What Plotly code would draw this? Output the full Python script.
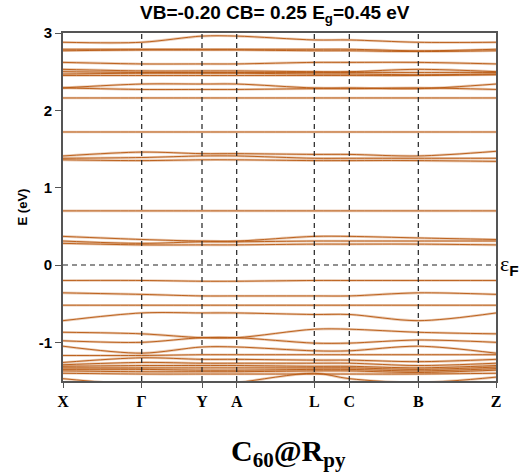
import plotly.graph_objects as go

# High-symmetry points along the k-path (path-length coordinate)
kpoint_labels = ["X", "Γ", "Y", "A", "L", "C", "B", "Z"]
kpoint_pos = [0.0, 0.787, 1.39, 1.737, 2.513, 2.863, 3.553, 4.33]

# Band energies (eV) at each high-symmetry point, E_F = 0
conduction_bands = [
    [2.88, 2.88, 2.96, 2.96, 2.91, 2.91, 2.88, 2.88],
    [2.79, 2.79, 2.79, 2.79, 2.79, 2.79, 2.77, 2.79],
    [2.77, 2.78, 2.78, 2.78, 2.77, 2.77, 2.76, 2.77],
    [2.62, 2.60, 2.60, 2.60, 2.62, 2.62, 2.62, 2.60],
    [2.53, 2.51, 2.51, 2.51, 2.50, 2.50, 2.53, 2.50],
    [2.50, 2.49, 2.49, 2.49, 2.49, 2.49, 2.49, 2.49],
    [2.47, 2.48, 2.48, 2.48, 2.47, 2.47, 2.46, 2.47],
    [2.45, 2.45, 2.45, 2.45, 2.45, 2.45, 2.45, 2.46],
    [2.29, 2.34, 2.34, 2.34, 2.29, 2.29, 2.28, 2.34],
    [2.29, 2.27, 2.27, 2.27, 2.28, 2.28, 2.29, 2.27],
    [2.16, 2.16, 2.16, 2.16, 2.16, 2.16, 2.16, 2.16],
    [1.72, 1.72, 1.72, 1.72, 1.72, 1.72, 1.72, 1.72],
    [1.41, 1.46, 1.44, 1.44, 1.43, 1.43, 1.41, 1.47],
    [1.38, 1.39, 1.41, 1.41, 1.38, 1.38, 1.38, 1.38],
    [1.36, 1.35, 1.36, 1.36, 1.35, 1.35, 1.35, 1.34],
    [0.70, 0.70, 0.70, 0.70, 0.70, 0.70, 0.70, 0.70],
    [0.37, 0.33, 0.31, 0.31, 0.37, 0.37, 0.35, 0.33],
    [0.31, 0.28, 0.30, 0.30, 0.31, 0.31, 0.31, 0.31],
    [0.28, 0.26, 0.26, 0.26, 0.27, 0.27, 0.27, 0.26],
]
valence_bands = [
    [-0.20, -0.20, -0.21, -0.21, -0.20, -0.20, -0.20, -0.20],
    [-0.36, -0.38, -0.40, -0.40, -0.40, -0.40, -0.36, -0.38],
    [-0.52, -0.52, -0.52, -0.52, -0.52, -0.52, -0.52, -0.52],
    [-0.72, -0.62, -0.62, -0.62, -0.64, -0.64, -0.72, -0.62],
    [-0.87, -0.89, -0.94, -0.94, -0.83, -0.83, -0.87, -0.89],
    [-0.98, -1.00, -0.94, -0.94, -1.01, -1.01, -0.97, -1.00],
    [-1.05, -1.14, -1.06, -1.06, -1.11, -1.11, -1.05, -1.14],
    [-1.17, -1.17, -1.16, -1.16, -1.16, -1.16, -1.16, -1.16],
    [-1.26, -1.20, -1.22, -1.22, -1.23, -1.23, -1.25, -1.22],
    [-1.29, -1.26, -1.27, -1.27, -1.27, -1.27, -1.30, -1.27],
    [-1.31, -1.30, -1.30, -1.30, -1.31, -1.31, -1.33, -1.30],
    [-1.33, -1.33, -1.33, -1.33, -1.33, -1.33, -1.35, -1.32],
    [-1.35, -1.35, -1.36, -1.36, -1.35, -1.35, -1.37, -1.34],
    [-1.37, -1.38, -1.38, -1.38, -1.37, -1.37, -1.39, -1.36],
    [-1.40, -1.41, -1.41, -1.41, -1.41, -1.41, -1.41, -1.40],
    [-1.47, -1.55, -1.55, -1.52, -1.40, -1.47, -1.52, -1.45],
]
y_ticks = [-1, 0, 1, 2, 3]

band_core = "#b8570f"
band_halo = "rgba(190,95,25,0.32)"

fig = go.Figure()
for band in conduction_bands + valence_bands:
    fig.add_trace(go.Scatter(
        x=kpoint_pos, y=band, mode="lines",
        line=dict(color=band_halo, width=2.6, shape="spline", smoothing=0.9),
        hoverinfo="skip", showlegend=False))
    fig.add_trace(go.Scatter(
        x=kpoint_pos, y=band, mode="lines",
        line=dict(color=band_core, width=0.9, shape="spline", smoothing=0.9),
        showlegend=False))

# Dashed guides at interior high-symmetry points and at the Fermi level
for xp in kpoint_pos[1:-1]:
    fig.add_shape(type="line", xref="x", yref="paper", x0=xp, x1=xp, y0=0, y1=1,
                  line=dict(color="#222", width=1.2, dash="5px,4px"), layer="above")
fig.add_shape(type="line", xref="paper", yref="y", x0=0, x1=1, y0=0, y1=0,
              line=dict(color="#222", width=1.2, dash="5px,4px"), layer="above")

fig.update_layout(
    width=526, height=475,
    margin=dict(l=63, r=30, t=33, b=94),
    plot_bgcolor="white", paper_bgcolor="white",
    xaxis=dict(
        range=[kpoint_pos[0], kpoint_pos[-1]],
        tickvals=kpoint_pos, ticktext=[f"<b>{t}</b>" for t in kpoint_labels],
        tickfont=dict(family="Liberation Serif", size=16, color="black"),
        ticks="outside", ticklen=5, tickcolor="#555",
        showline=True, linecolor="#555", linewidth=2, mirror=True,
        showgrid=False, zeroline=False),
    yaxis=dict(
        range=[-1.5, 3], tickvals=y_ticks,
        ticktext=[f"<b>{v}</b>" for v in y_ticks],
        tickfont=dict(family="Liberation Sans", size=15, color="black"),
        ticks="outside", ticklen=6, tickcolor="#555",
        showline=True, linecolor="#555", linewidth=2, mirror=True,
        showgrid=False, zeroline=False,
        title=dict(text="<b>E (eV)</b>", standoff=8,
                   font=dict(family="Liberation Sans", size=13, color="black"))),
    annotations=[
        dict(text="<b>VB=-0.20 CB= 0.25 E<sub>g</sub>=0.45 eV</b>",
             xref="paper", yref="paper", x=0.49, y=1.0, yshift=19,
             xanchor="center", yanchor="middle", showarrow=False,
             font=dict(family="Liberation Sans", size=19, color="black")),
        dict(text="ε<sub><b><span style='font-family:Liberation Sans'>F</span></b></sub>",
             xref="paper", yref="y", x=1.0, y=0, xshift=2,
             xanchor="left", yanchor="middle", showarrow=False,
             font=dict(family="Liberation Serif", size=22, color="black")),
        dict(text="<b>C<sub>60</sub>@R<sub>py</sub></b>",
             xref="paper", yref="paper", x=0.52, y=0, yshift=-72,
             xanchor="center", yanchor="middle", showarrow=False,
             font=dict(family="Liberation Serif", size=30, color="black")),
    ],
)

fig.write_html("out.html")
